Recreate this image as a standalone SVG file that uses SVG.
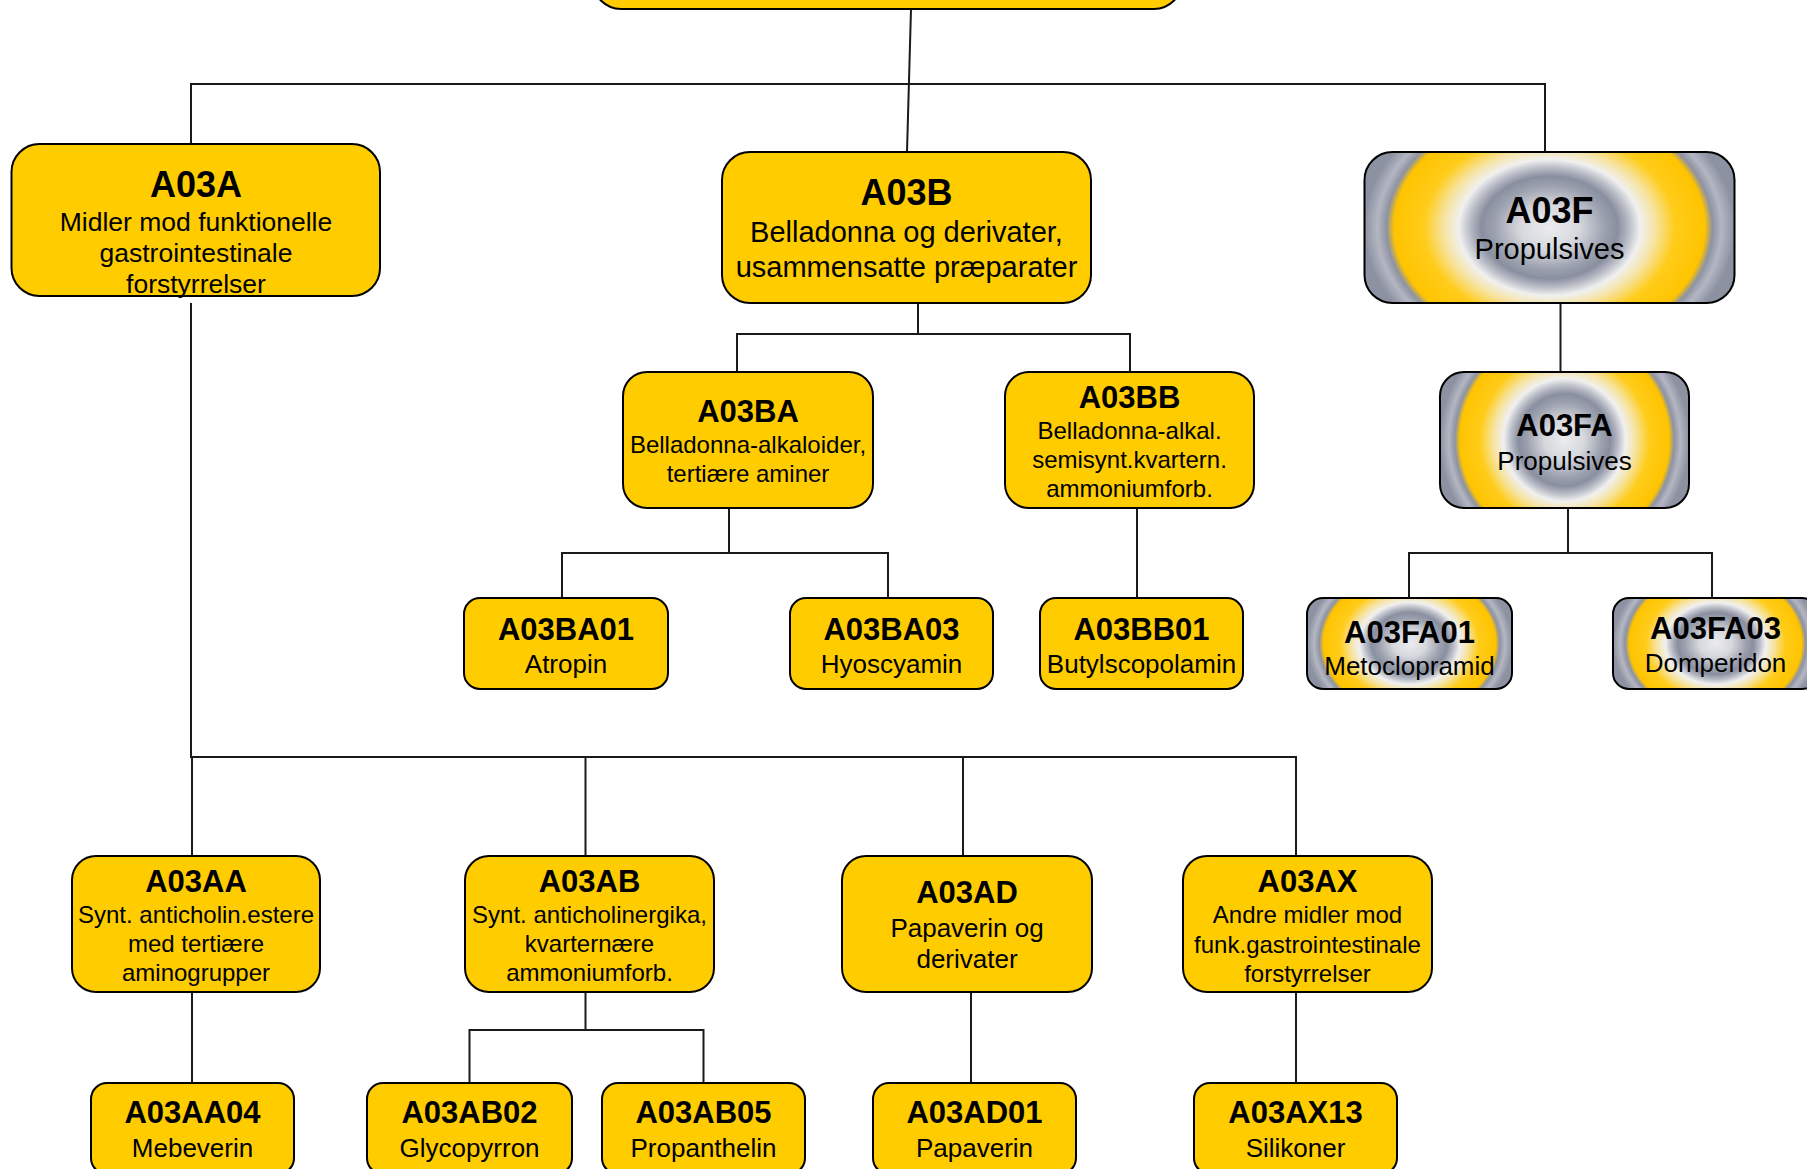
<svg xmlns="http://www.w3.org/2000/svg" width="1807" height="1169" viewBox="0 0 1807 1169">
<defs>
<style>
.n{fill:#FFCC00;stroke:#000;stroke-width:2}
.g{fill:url(#gr);stroke:#000;stroke-width:2}
.c{font-family:"Liberation Sans",Arial,sans-serif;font-weight:bold;text-anchor:middle;fill:#000}
.t{font-family:"Liberation Sans",Arial,sans-serif;text-anchor:middle;fill:#000}
.s36{font-size:36px}.s31{font-size:31px}.s29{font-size:29px}.s265{font-size:26.5px}.s26{font-size:26px}.s24{font-size:24px}
.k{fill:none;stroke:#1a1a1a;stroke-width:2}
</style>
<radialGradient id="gr" cx="0.5" cy="0.5" r="0.5" gradientTransform="translate(0.5 0.5) scale(1 1.84) translate(-0.5 -0.5)">
<stop offset="0" stop-color="#ececee"/>
<stop offset="0.16" stop-color="#d6d8dd"/>
<stop offset="0.3" stop-color="#9ca1af"/>
<stop offset="0.37" stop-color="#8a8fa0"/>
<stop offset="0.43" stop-color="#b9bcc6"/>
<stop offset="0.49" stop-color="#f0f0f0"/>
<stop offset="0.57" stop-color="#f6e4a4"/>
<stop offset="0.68" stop-color="#ffcc1a"/>
<stop offset="0.84" stop-color="#ffc400"/>
<stop offset="0.88" stop-color="#8e93a3"/>
<stop offset="0.93" stop-color="#b4b7c2"/>
<stop offset="1" stop-color="#8d92a2"/>
</radialGradient>
</defs>
<rect width="1807" height="1169" fill="#fff"/>
<g id="connectors" class="k">
<path d="M911 9 L907 152 M191 144 V84 H1545 V152"/>
<path d="M918 303 V334 M737 372 V334 H1130 V372"/>
<path d="M729 508 V553 M562 598 V553 H888 V598"/>
<path d="M1137 508 V598"/>
<path d="M1560.5 303 V372"/>
<path d="M1568 508 V553 M1409 598 V553 H1712 V598"/>
<path d="M191 303 V757 H1296 V856 M192 757 V856 M585.5 757 V856 M963 757 V856"/>
<path d="M192 992 V1083"/>
<path d="M585.5 992 V1030 M469.5 1083 V1030 H703.5 V1083"/>
<path d="M971 992 V1083"/>
<path d="M1296 992 V1083"/>
</g>
<g id="top"><rect class="n" x="593" y="-143" width="589" height="152" rx="28"/></g>
<g id="A03A"><rect class="n" x="11.5" y="144" width="368.5" height="152" rx="28"/>
<text class="c s36" x="196" y="197">A03A</text>
<text class="t s265" x="196" y="231">Midler mod funktionelle</text>
<text class="t s265" x="196" y="262">gastrointestinale</text>
<text class="t s265" x="196" y="293">forstyrrelser</text></g>
<g id="A03B"><rect class="n" x="722" y="152" width="369" height="151" rx="28"/>
<text class="c s36" x="906.5" y="205">A03B</text>
<text class="t s29" x="906.5" y="242">Belladonna og derivater,</text>
<text class="t s29" x="906.5" y="277">usammensatte præparater</text></g>
<g id="A03F"><rect class="g" x="1364.5" y="152" width="370" height="151" rx="28"/>
<text class="c s36" x="1549.5" y="223">A03F</text>
<text class="t s29" x="1549.5" y="259">Propulsives</text></g>
<g id="A03BA"><rect class="n" x="623" y="372" width="250" height="136" rx="24"/>
<text class="c s31" x="748" y="422">A03BA</text>
<text class="t s24" x="748" y="453">Belladonna-alkaloider,</text>
<text class="t s24" x="748" y="482">tertiære aminer</text></g>
<g id="A03BB"><rect class="n" x="1005" y="372" width="249" height="136" rx="24"/>
<text class="c s31" x="1129.5" y="408">A03BB</text>
<text class="t s24" x="1129.5" y="439">Belladonna-alkal.</text>
<text class="t s24" x="1129.5" y="468">semisynt.kvartern.</text>
<text class="t s24" x="1129.5" y="497">ammoniumforb.</text></g>
<g id="A03FA"><rect class="g" x="1440" y="372" width="249" height="136" rx="24"/>
<text class="c s31" x="1564.5" y="436">A03FA</text>
<text class="t s26" x="1564.5" y="470">Propulsives</text></g>
<g id="A03BA01"><rect class="n" x="464" y="598" width="204" height="91" rx="16"/>
<text class="c s31" x="566" y="640">A03BA01</text>
<text class="t s26" x="566" y="673">Atropin</text></g>
<g id="A03BA03"><rect class="n" x="790" y="598" width="203" height="91" rx="16"/>
<text class="c s31" x="891.5" y="640">A03BA03</text>
<text class="t s26" x="891.5" y="673">Hyoscyamin</text></g>
<g id="A03BB01"><rect class="n" x="1040" y="598" width="203" height="91" rx="16"/>
<text class="c s31" x="1141.5" y="640">A03BB01</text>
<text class="t s26" x="1141.5" y="673">Butylscopolamin</text></g>
<g id="A03FA01"><rect class="g" x="1307" y="598" width="205" height="91" rx="16"/>
<text class="c s31" x="1409.5" y="643">A03FA01</text>
<text class="t s26" x="1409.5" y="675">Metoclopramid</text></g>
<g id="A03FA03"><rect class="g" x="1613" y="598" width="205" height="91" rx="16"/>
<text class="c s31" x="1715.5" y="639">A03FA03</text>
<text class="t s26" x="1715.5" y="672">Domperidon</text></g>
<g id="A03AA"><rect class="n" x="72" y="856" width="248" height="136" rx="24"/>
<text class="c s31" x="196" y="892">A03AA</text>
<text class="t s24" x="196" y="923">Synt. anticholin.estere</text>
<text class="t s24" x="196" y="952">med tertiære</text>
<text class="t s24" x="196" y="981">aminogrupper</text></g>
<g id="A03AB"><rect class="n" x="465" y="856" width="249" height="136" rx="24"/>
<text class="c s31" x="589.5" y="892">A03AB</text>
<text class="t s24" x="589.5" y="923">Synt. anticholinergika,</text>
<text class="t s24" x="589.5" y="952">kvarternære</text>
<text class="t s24" x="589.5" y="981">ammoniumforb.</text></g>
<g id="A03AD"><rect class="n" x="842" y="856" width="250" height="136" rx="24"/>
<text class="c s31" x="967" y="903">A03AD</text>
<text class="t s26" x="967" y="937">Papaverin og</text>
<text class="t s26" x="967" y="968">derivater</text></g>
<g id="A03AX"><rect class="n" x="1183" y="856" width="249" height="136" rx="24"/>
<text class="c s31" x="1307.5" y="892">A03AX</text>
<text class="t s24" x="1307.5" y="923">Andre midler mod</text>
<text class="t s24" x="1307.5" y="953">funk.gastrointestinale</text>
<text class="t s24" x="1307.5" y="982">forstyrrelser</text></g>
<g id="A03AA04"><rect class="n" x="91" y="1083" width="203" height="91" rx="16"/>
<text class="c s31" x="192.5" y="1123">A03AA04</text>
<text class="t s26" x="192.5" y="1157">Mebeverin</text></g>
<g id="A03AB02"><rect class="n" x="367" y="1083" width="205" height="91" rx="16"/>
<text class="c s31" x="469.5" y="1123">A03AB02</text>
<text class="t s26" x="469.5" y="1157">Glycopyrron</text></g>
<g id="A03AB05"><rect class="n" x="602" y="1083" width="203" height="91" rx="16"/>
<text class="c s31" x="703.5" y="1123">A03AB05</text>
<text class="t s26" x="703.5" y="1157">Propanthelin</text></g>
<g id="A03AD01"><rect class="n" x="873" y="1083" width="203" height="91" rx="16"/>
<text class="c s31" x="974.5" y="1123">A03AD01</text>
<text class="t s26" x="974.5" y="1157">Papaverin</text></g>
<g id="A03AX13"><rect class="n" x="1194" y="1083" width="203" height="91" rx="16"/>
<text class="c s31" x="1295.5" y="1123">A03AX13</text>
<text class="t s26" x="1295.5" y="1157">Silikoner</text></g>
</svg>
